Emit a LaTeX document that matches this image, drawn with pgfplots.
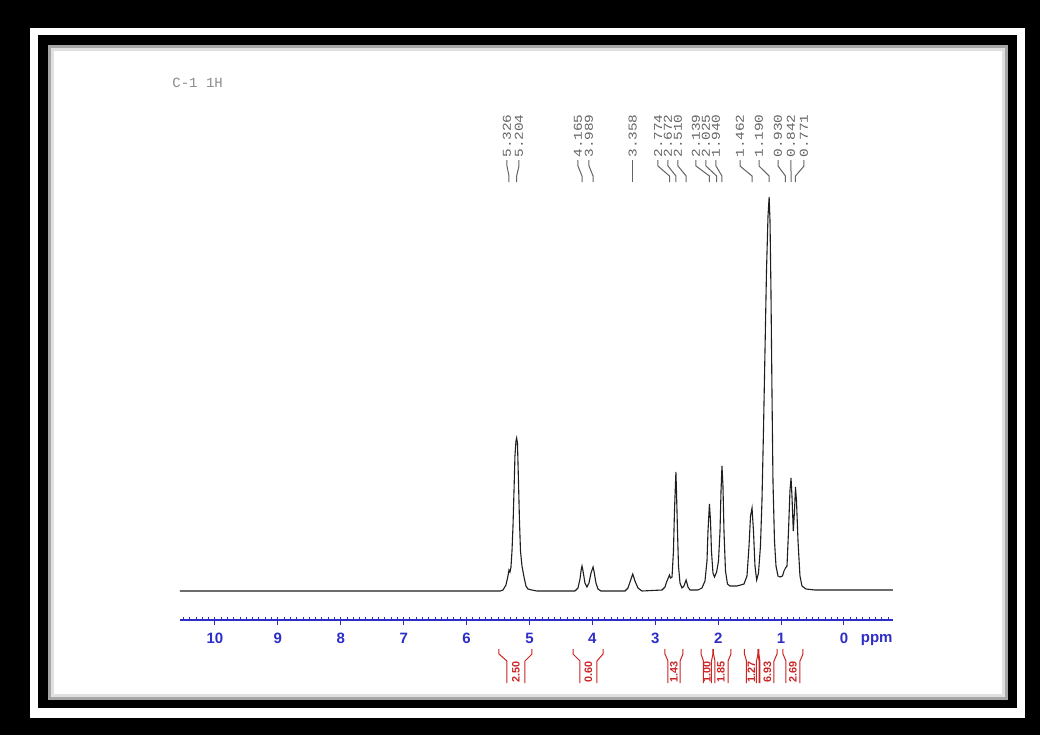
\documentclass[border=0pt]{standalone}
\usepackage{pgfplots}
\pgfplotsset{compat=1.18}
\usepackage{fontspec}
\setmainfont{Liberation Sans}
\newfontfamily\monof{Liberation Mono}
\newfontfamily\labmono[FakeStretch=1.2]{Liberation Mono}
\definecolor{axblue}{RGB}{45,45,200}
\definecolor{intred}{RGB}{205,35,35}
\definecolor{labgray}{RGB}{100,100,100}
\definecolor{specgray}{RGB}{30,30,30}
\newcommand{\tickfont}{\fontsize{7.5}{9}\selectfont\bfseries}
\begin{document}
\begin{tikzpicture}[
 plab/.style={rotate=90, anchor=west, inner sep=0pt, text=labgray, font=\labmono\fontsize{6}{7}\selectfont},
 conn/.style={labgray, line width=0.5pt},
 ilab/.style={rotate=90, inner sep=0pt, text=intred, font=\bfseries\fontsize{5.4}{6}\selectfont},
 ibr/.style={intred, line width=0.5pt},
]
\begin{scope}[x=0.5pt,y=-0.5pt]
\fill[black] (0,0) rectangle (1040,735);
\fill[white] (30,28) rectangle (1025,718);
\fill[black] (38,35) rectangle (1017,708);
\fill[white] (48,45) rectangle (1008,700);
\draw[black!35,line width=1.5pt] (49.5,46.5) rectangle (1006.5,698.5);
\draw[black!12,line width=1.5pt] (52.5,49.5) rectangle (1003.5,695.5);
\end{scope}
\begin{axis}[
 at={(90pt,-310pt)}, anchor=south west, scale only axis,
 width=356.5pt, height=270pt,
 xmin=-0.779, xmax=10.556, ymin=-29, ymax=511,
 x dir=reverse,
 axis x line=bottom, axis y line=none,
 x axis line style={-, axblue, line width=0.6pt},
 xtick={0,1,...,10}, xticklabels={0,1,2,3,4,5,6,7,8,9,10},
 minor xtick={-0.7,-0.6,...,10.5},
 xtick align=outside,
 major tick length=2.5pt, minor tick length=1.5pt,
 tick style={axblue, line width=0.5pt},
 minor tick style={yshift=1.5pt},
 xticklabel style={font=\tickfont, text=axblue, inner sep=0pt, yshift=-4pt},
 clip=false,
]
\addplot[specgray, line width=0.55pt] coordinates {
(10.556,0) (5.469,0) (5.421,1) (5.374,6) (5.342,15) (5.326,21) (5.310,19) (5.294,24) (5.278,40) (5.262,65) (5.246,100) (5.231,135) (5.215,150) (5.204,153) (5.191,148) (5.175,110) (5.159,70) (5.143,40) (5.119,25) (5.087,14) (5.056,5) (5.024,2) (4.960,1) (4.881,0)
(4.277,0) (4.229,3) (4.197,12) (4.176,22) (4.165,25) (4.149,20) (4.118,8) (4.086,4) (4.054,8) (4.022,18) (3.989,24) (3.975,20) (3.943,8) (3.911,2) (3.863,0)
(3.482,0) (3.434,3) (3.386,12) (3.358,17) (3.323,10) (3.275,3) (3.211,0)
(2.893,1) (2.846,4) (2.814,10) (2.774,16) (2.758,13) (2.734,14) (2.711,40) (2.695,80) (2.672,119) (2.663,100) (2.647,60) (2.631,25) (2.607,8) (2.576,3) (2.544,5) (2.510,11) (2.480,4) (2.448,1)
(2.321,1) (2.258,3) (2.210,10) (2.178,30) (2.162,60) (2.139,87) (2.122,70) (2.107,40) (2.083,18) (2.059,14) (2.025,19) (1.995,30) (1.971,60) (1.955,100) (1.940,125) (1.924,105) (1.908,60) (1.884,20) (1.852,7) (1.812,5)
(1.701,5) (1.590,7) (1.542,15) (1.510,45) (1.486,75) (1.462,83) (1.439,60) (1.415,25) (1.388,11) (1.359,18) (1.328,45) (1.304,90) (1.280,160) (1.256,240) (1.232,320) (1.208,375) (1.190,394) (1.176,370) (1.161,300) (1.145,200) (1.129,110) (1.105,50) (1.081,25) (1.049,15) (1.017,14) (0.978,15) (0.954,20) (0.930,23) (0.906,25) (0.882,60) (0.859,100) (0.842,113) (0.827,95) (0.806,60) (0.787,80) (0.771,104) (0.755,90) (0.731,50) (0.700,15) (0.668,5) (0.604,2) (0.461,1) (-0.779,1)
};
% peak labels
\node[plab] at (axis cs:5.358,433) {5.326};
\node[plab] at (axis cs:5.167,433) {5.204};
\node[plab] at (axis cs:4.229,433) {4.165};
\node[plab] at (axis cs:4.054,433) {3.989};
\node[plab] at (axis cs:3.358,433) {3.358};
\node[plab] at (axis cs:2.957,433) {2.774};
\node[plab] at (axis cs:2.798,433) {2.672};
\node[plab] at (axis cs:2.639,433) {2.510};
\node[plab] at (axis cs:2.353,433) {2.139};
\node[plab] at (axis cs:2.194,433) {2.025};
\node[plab] at (axis cs:2.035,433) {1.940};
\node[plab] at (axis cs:1.653,433) {1.462};
\node[plab] at (axis cs:1.351,433) {1.190};
\node[plab] at (axis cs:1.049,433) {0.930};
\node[plab] at (axis cs:0.843,433) {0.842};
\node[plab] at (axis cs:0.636,433) {0.771};
\draw[conn] (axis cs:5.358,431) -- (axis cs:5.358,425) -- (axis cs:5.326,415) -- (axis cs:5.326,409);
\draw[conn] (axis cs:5.167,431) -- (axis cs:5.167,425) -- (axis cs:5.204,415) -- (axis cs:5.204,409);
\draw[conn] (axis cs:4.229,431) -- (axis cs:4.229,425) -- (axis cs:4.165,415) -- (axis cs:4.165,409);
\draw[conn] (axis cs:4.054,431) -- (axis cs:4.054,425) -- (axis cs:3.989,415) -- (axis cs:3.989,409);
\draw[conn] (axis cs:3.358,431) -- (axis cs:3.358,409);
\draw[conn] (axis cs:2.957,431) -- (axis cs:2.957,425) -- (axis cs:2.774,415) -- (axis cs:2.774,409);
\draw[conn] (axis cs:2.798,431) -- (axis cs:2.798,425) -- (axis cs:2.672,415) -- (axis cs:2.672,409);
\draw[conn] (axis cs:2.639,431) -- (axis cs:2.639,425) -- (axis cs:2.510,415) -- (axis cs:2.510,409);
\draw[conn] (axis cs:2.353,431) -- (axis cs:2.353,425) -- (axis cs:2.139,415) -- (axis cs:2.139,409);
\draw[conn] (axis cs:2.194,431) -- (axis cs:2.194,425) -- (axis cs:2.025,415) -- (axis cs:2.025,409);
\draw[conn] (axis cs:2.035,431) -- (axis cs:2.035,425) -- (axis cs:1.940,415) -- (axis cs:1.940,409);
\draw[conn] (axis cs:1.653,431) -- (axis cs:1.653,425) -- (axis cs:1.462,415) -- (axis cs:1.462,409);
\draw[conn] (axis cs:1.351,431) -- (axis cs:1.351,425) -- (axis cs:1.190,415) -- (axis cs:1.190,409);
\draw[conn] (axis cs:1.049,431) -- (axis cs:1.049,425) -- (axis cs:0.930,415) -- (axis cs:0.930,409);
\draw[conn] (axis cs:0.843,431) -- (axis cs:0.843,425) -- (axis cs:0.842,415) -- (axis cs:0.842,409);
\draw[conn] (axis cs:0.636,431) -- (axis cs:0.636,425) -- (axis cs:0.771,415) -- (axis cs:0.771,409);
% ppm label
\node[anchor=base, font=\tickfont, text=axblue, inner sep=0pt] at (axis cs:-0.52,-51) {ppm};
% integrals
\draw[ibr] (axis cs:5.485,-58) -- (axis cs:5.485,-63) -- (axis cs:5.358,-70) -- (axis cs:5.358,-92);
\draw[ibr] (axis cs:4.960,-58) -- (axis cs:4.960,-63) -- (axis cs:5.072,-70) -- (axis cs:5.072,-92);
\node[ilab] at (axis cs:5.215,-80.5) {2.50};
\draw[ibr] (axis cs:4.308,-58) -- (axis cs:4.308,-63) -- (axis cs:4.197,-70) -- (axis cs:4.197,-92);
\draw[ibr] (axis cs:3.831,-58) -- (axis cs:3.831,-63) -- (axis cs:3.927,-70) -- (axis cs:3.927,-92);
\node[ilab] at (axis cs:4.062,-80.5) {0.60};
\draw[ibr] (axis cs:2.846,-58) -- (axis cs:2.846,-63) -- (axis cs:2.798,-70) -- (axis cs:2.798,-92);
\draw[ibr] (axis cs:2.560,-58) -- (axis cs:2.560,-63) -- (axis cs:2.607,-70) -- (axis cs:2.607,-92);
\node[ilab] at (axis cs:2.703,-80.5) {1.43};
\draw[ibr] (axis cs:2.273,-58) -- (axis cs:2.273,-63) -- (axis cs:2.234,-70) -- (axis cs:2.234,-92);
\draw[ibr] (axis cs:2.083,-58) -- (axis cs:2.083,-63) -- (axis cs:2.107,-70) -- (axis cs:2.107,-92);
\node[ilab] at (axis cs:2.178,-80.5) {1.00};
\draw[ibr] (axis cs:2.075,-58) -- (axis cs:2.075,-63) -- (axis cs:2.051,-70) -- (axis cs:2.051,-92);
\draw[ibr] (axis cs:1.797,-58) -- (axis cs:1.797,-63) -- (axis cs:1.844,-70) -- (axis cs:1.844,-92);
\node[ilab] at (axis cs:1.955,-80.5) {1.85};
\draw[ibr] (axis cs:1.582,-58) -- (axis cs:1.582,-63) -- (axis cs:1.550,-70) -- (axis cs:1.550,-92);
\draw[ibr] (axis cs:1.367,-58) -- (axis cs:1.367,-63) -- (axis cs:1.391,-70) -- (axis cs:1.391,-92);
\node[ilab] at (axis cs:1.471,-80.5) {1.27};
\draw[ibr, line width=0.9pt] (axis cs:1.359,-58) -- (axis cs:1.359,-63) -- (axis cs:1.343,-70) -- (axis cs:1.343,-92);
\draw[ibr] (axis cs:1.065,-58) -- (axis cs:1.065,-63) -- (axis cs:1.113,-70) -- (axis cs:1.113,-92);
\node[ilab] at (axis cs:1.216,-80.5) {6.93};
\draw[ibr] (axis cs:0.970,-58) -- (axis cs:0.970,-63) -- (axis cs:0.922,-70) -- (axis cs:0.922,-92);
\draw[ibr] (axis cs:0.652,-58) -- (axis cs:0.652,-63) -- (axis cs:0.700,-70) -- (axis cs:0.700,-92);
\node[ilab] at (axis cs:0.811,-80.5) {2.69};
\end{axis}
\begin{scope}[x=0.5pt,y=-0.5pt]
\node[anchor=west, inner sep=0pt, font=\monof\fontsize{7}{8}\selectfont, text=black!45] at (172,83) {C-1 1H};
\end{scope}
\end{tikzpicture}
\end{document}
